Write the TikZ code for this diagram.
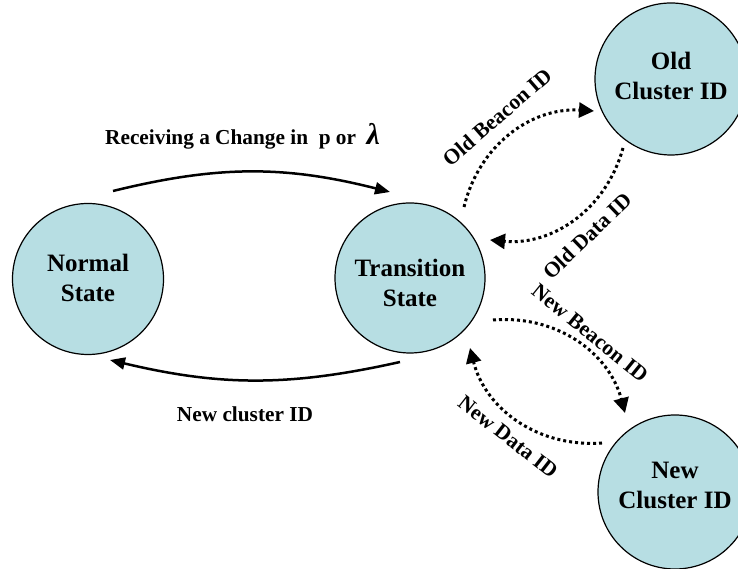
\documentclass[tikz,border=0pt]{standalone}
\usepackage{fontspec}
\setmainfont{Liberation Serif}
\usetikzlibrary{arrows.meta,calc}
\definecolor{statefill}{RGB}{183,222,227}
% two centred lines, lifted by #1 inside the state circle
\newcommand{\statetext}[3]{\raisebox{#1}[\height][\depth]{%
  \begin{tabular}{@{}c@{}}#2\\#3\end{tabular}}}
\begin{document}
\begin{tikzpicture}[x=1pt,y=1pt,
  state/.style={circle, draw=black, line width=1.2pt, fill=statefill,
    minimum size=151pt, inner sep=0pt,
    font=\fontsize{25}{30}\selectfont\bfseries},
  solidarrow/.style={line width=2.5pt, -{Triangle[length=15pt,width=12pt]}},
  dotarrow/.style={line width=3pt, dash pattern=on 3pt off 3pt,
    -{Triangle[length=15pt,width=15pt]}},
  lbl/.style={font=\fontsize{21.3}{24}\selectfont\bfseries, inner sep=0pt},
  rlbl/.style={font=\fontsize{21.5}{24}\selectfont\bfseries, inner sep=0pt}]
\useasboundingbox (0,0) rectangle (738,569);

% states
\node[state] (normal) at (88,290) {\statetext{-2pt}{Normal}{State}};
\node[state, minimum size=150pt] (trans) at (410,291) {\statetext{-8pt}{Transition}{State}};
\node[state, minimum size=152pt] (old) at (671,490) {\statetext{0pt}{Old}{Cluster ID}};
\node[state, minimum size=154pt] (new) at (675,77) {\statetext{4pt}{New}{Cluster ID}};

% transitions between normal and transition state
\draw[solidarrow] ($(normal)+(25,88)$) to[bend left=14] ($(trans)+(-20,86)$);
\draw[solidarrow] ($(trans)+(-10,-84)$) to[bend left=13] ($(normal)+(22,-81)$);

% message exchanges with the clusters
\draw[dotarrow] ($(trans)+(54,71)$) to[bend left=40] ($(old)+(-77,-32)$);
\draw[dotarrow] ($(old)+(-48,-69)$) to[bend left=40] ($(trans)+(80,38)$);
\draw[dotarrow] ($(trans)+(83,-42)$) to[bend left=40] ($(new)+(-50,79)$);
\draw[dotarrow] ($(new)+(-73,49)$) to[bend left=40] ($(trans)+(60,-70)$);

% labels
\node[lbl, anchor=base west] (rcv) at (105,424)
  {Receiving a Change in \ p or \ {\fontsize{30}{30}\selectfont\itshape λ}};
\node[lbl, anchor=base] (ncid) at (245,147) {New cluster ID};
\node[rlbl, rotate=41] (obid) at (497,452) {Old Beacon ID};
\node[rlbl, rotate=44] (odid) at (587,333) {Old Data ID};
\node[rlbl, rotate=-39] (nbid) at (590,236) {New Beacon ID};
\node[rlbl, rotate=-38] (ndid) at (508,132) {New Data ID};
\end{tikzpicture}
\end{document}
